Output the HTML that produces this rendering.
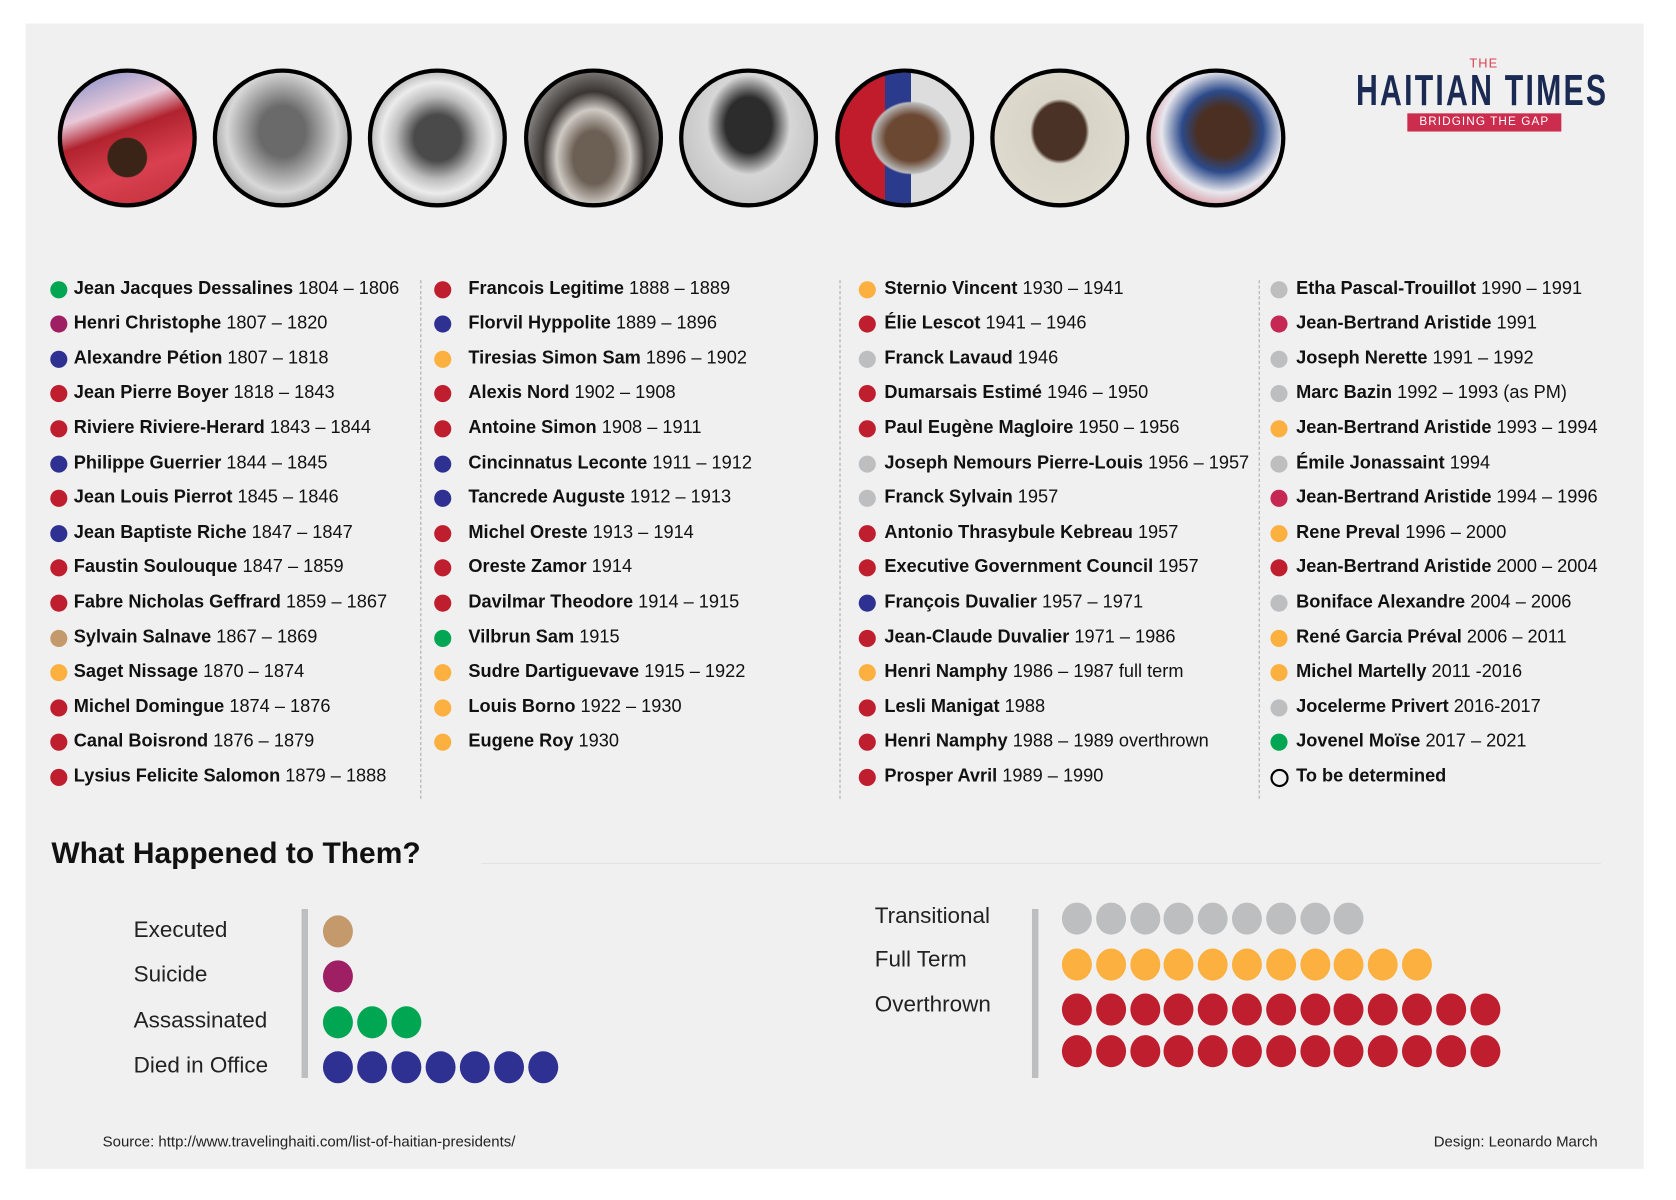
<!DOCTYPE html>
<html><head><meta charset="utf-8">
<style>
html,body{margin:0;padding:0;background:#fff;width:1676px;height:1200px;overflow:hidden}
#s{position:absolute;left:0;top:0;width:1560px;height:1117px;transform:scale(1.0694);transform-origin:0 0;font-family:"Liberation Sans",sans-serif;color:#111}
.panel{position:absolute;left:24px;top:22px;width:1513px;height:1071px;background:#f0f0f0}
.p{position:absolute;width:122px;height:122px;border:4px solid #000;border-radius:50%;top:64px;overflow:hidden}
.r{position:absolute;font-size:17px;white-space:nowrap;line-height:20px}
.r b{font-weight:bold}
.d{position:absolute;width:16px;height:16px;border-radius:50%}
.sep{position:absolute;top:262px;height:485px;border-left:1px dashed #aaa}
.lab{position:absolute;font-size:21px;line-height:24px;color:#222}
.dot{position:absolute;width:28px;height:30px;border-radius:50%}
.bar{position:absolute;width:6px;background:#bcbec0}
</style></head><body><div id="s">
<div class="panel"></div>

<div class="p" style="left:54px;background:radial-gradient(circle at 50% 65%,#3a2418 0 18%,transparent 19%),linear-gradient(160deg,#7d8cc8 0%,#e8c8d8 30%,#b0232e 45%,#d94050 70%,#c0303a 100%)"></div>
<div class="p" style="left:199px;background:radial-gradient(ellipse at 50% 45%,#6a6a6a 0 25%,#9a9a9a 40%,#d8d8d8 60%,#555 100%)"></div>
<div class="p" style="left:344px;background:radial-gradient(ellipse at 50% 50%,#4a4a4a 0 25%,#bdbdbd 45%,#ececec 60%,#555 100%)"></div>
<div class="p" style="left:490px;background:radial-gradient(ellipse at 50% 65%,#6c6055 0 22%,#cfcac4 40%,#3a3532 55%,#ddd 100%)"></div>
<div class="p" style="left:635px;background:radial-gradient(ellipse at 50% 40%,#2c2c2c 0 25%,#d6d6d6 45%,#b8b8b8 100%)"></div>
<div class="p" style="left:781px;background:radial-gradient(ellipse at 55% 50%,#6a4832 0 25%,#b9b9b9 38%,transparent 40%),linear-gradient(90deg,#c01c2c 0 35%,#2a3a8c 35% 55%,#ddd 55%)"></div>
<div class="p" style="left:926px;background:radial-gradient(ellipse at 50% 45%,#4a3326 0 28%,#d8d4c8 32%,#e2ded2 100%)"></div>
<div class="p" style="left:1072px;background:radial-gradient(ellipse at 55% 45%,#4a2f22 0 25%,#2c4a8a 40%,#e8e8ee 60%,#c02030 100%)"></div>

<div style="position:absolute;left:1374px;top:52px;font-size:12px;color:#d9434f;letter-spacing:1px">THE</div>
<div style="position:absolute;left:1268px;top:62px;font-size:41px;font-weight:bold;color:#1a2a52;transform:scaleX(0.69);transform-origin:0 0;letter-spacing:3px;white-space:nowrap;line-height:44px">HAITIAN TIMES</div>
<div style="position:absolute;left:1316px;top:106px;width:144px;height:17px;background:#cc2d4e;color:#fff;font-size:11px;text-align:center;line-height:17px;letter-spacing:1px">BRIDGING THE GAP</div>

<div class="sep" style="left:393px"></div>
<div class="sep" style="left:785px"></div>
<div class="sep" style="left:1177px"></div>

<div id="list"></div>

<div style="position:absolute;left:48px;top:782px;font-size:28px;font-weight:bold;color:#111">What Happened to Them?</div>
<div style="position:absolute;left:450px;top:807px;width:1047px;height:1px;background:#e2e2e2"></div>

<div class="bar" style="left:282px;top:850px;height:158px"></div>
<div class="lab" style="left:125px;top:858px">Executed</div>
<div class="lab" style="left:125px;top:900px">Suicide</div>
<div class="lab" style="left:125px;top:943px">Assassinated</div>
<div class="lab" style="left:125px;top:985px">Died in Office</div>

<div class="bar" style="left:965px;top:850px;height:158px"></div>
<div class="lab" style="left:818px;top:845px">Transitional</div>
<div class="lab" style="left:818px;top:886px">Full Term</div>
<div class="lab" style="left:818px;top:928px">Overthrown</div>

<div id="dots"></div>

<div style="position:absolute;left:96px;top:1059px;font-size:14px;color:#222">Source: http://www.travelinghaiti.com/list-of-haitian-presidents/</div>
<div style="position:absolute;right:66px;top:1059px;font-size:14px;color:#222">Design: Leonardo March</div>
</div>
<script>
var C={g:"#00a651",p:"#9e1f63",b:"#2e3192",r:"#be1e2d",t:"#c49a6c",o:"#fbb040",y:"#bcbec0",k:"#c42853"};
var cols=[
[55,69,[["g","Jean Jacques Dessalines","1804 – 1806"],["p","Henri Christophe","1807 – 1820"],["b","Alexandre Pétion","1807 – 1818"],["r","Jean Pierre Boyer","1818 – 1843"],["r","Riviere Riviere-Herard"," 1843 – 1844"],["b","Philippe Guerrier"," 1844 – 1845"],["r","Jean Louis Pierrot","1845 – 1846"],["b","Jean Baptiste Riche"," 1847 – 1847"],["r","Faustin Soulouque","1847 – 1859"],["r","Fabre Nicholas Geffrard","1859 – 1867"],["t","Sylvain Salnave"," 1867 – 1869"],["o","Saget Nissage","1870 – 1874"],["r","Michel Domingue"," 1874 – 1876"],["r","Canal Boisrond","1876 – 1879"],["r","Lysius Felicite Salomon","1879 – 1888"]]],
[414,438,[["r","Francois Legitime","1888 – 1889"],["b","Florvil Hyppolite","1889 – 1896"],["o","Tiresias Simon Sam","1896 – 1902"],["r","Alexis Nord","1902 – 1908"],["r","Antoine Simon","1908 – 1911"],["b","Cincinnatus Leconte","1911 – 1912"],["b","Tancrede Auguste","1912 – 1913"],["r","Michel Oreste","1913 – 1914"],["r","Oreste Zamor"," 1914"],["r","Davilmar Theodore","1914 – 1915"],["g","Vilbrun Sam","1915"],["o","Sudre Dartiguevave","1915 – 1922"],["o","Louis Borno","1922 – 1930"],["o","Eugene Roy","1930"]]],
[811,827,[["o","Sternio Vincent","1930 – 1941"],["r","Élie Lescot","1941 – 1946"],["y","Franck Lavaud","1946"],["r","Dumarsais Estimé","1946 – 1950"],["r","Paul Eugène Magloire","1950 – 1956"],["y","Joseph Nemours Pierre-Louis","1956 – 1957"],["y","Franck Sylvain","1957"],["r","Antonio Thrasybule Kebreau","1957"],["r","Executive Government Council","1957"],["b","François Duvalier","1957 – 1971"],["r","Jean-Claude Duvalier","1971 – 1986"],["o","Henri Namphy","1986 – 1987 full term"],["r","Lesli Manigat","1988"],["r","Henri Namphy","1988 – 1989 overthrown"],["r","Prosper Avril","1989 – 1990"]]],
[1196,1212,[["y","Etha Pascal-Trouillot","1990 – 1991"],["k","Jean-Bertrand Aristide","1991"],["y","Joseph Nerette","1991 – 1992"],["y","Marc Bazin","1992 – 1993 (as PM)"],["o","Jean-Bertrand Aristide","1993 – 1994"],["y","Émile Jonassaint","1994"],["k","Jean-Bertrand Aristide","1994 – 1996"],["o","Rene Preval","1996 – 2000"],["r","Jean-Bertrand Aristide","2000 – 2004"],["y","Boniface Alexandre","2004 – 2006"],["o","René Garcia Préval","2006 – 2011"],["o","Michel Martelly","2011 -2016"],["y","Jocelerme Privert","2016-2017"],["g","Jovenel Moïse","2017 – 2021"],["n","To be determined",""]]]];
var h="";
cols.forEach(function(c){c[2].forEach(function(e,i){var y=270.5+i*32.6;
var st=e[0]=="n"?"border:2.5px solid #000;width:13px;height:13px;background:transparent":"background:"+C[e[0]];
h+='<div class="d" style="left:'+(c[0]-8)+'px;top:'+(y-8)+'px;'+st+'"></div>';
h+='<div class="r" style="left:'+c[1]+'px;top:'+(y-11)+'px"><b>'+e[1]+'</b> '+e[2]+'</div>';});});
document.getElementById("list").innerHTML=h;
var d="";
function row(x0,y,n,col,sp){for(var i=0;i<n;i++)d+='<div class="dot" style="left:'+(x0+i*sp-14)+'px;top:'+(y-15)+'px;background:'+col+'"></div>';}
row(316,871,1,C.t,32);row(316,913,1,C.p,32);row(316,956,3,C.g,32);row(316,998,7,C.b,32);
row(1007,859,9,C.y,31.8);row(1007,902,11,C.o,31.8);row(1007,944,13,C.r,31.8);row(1007,983,13,C.r,31.8);
document.getElementById("dots").innerHTML=d;
</script>
</body></html>
